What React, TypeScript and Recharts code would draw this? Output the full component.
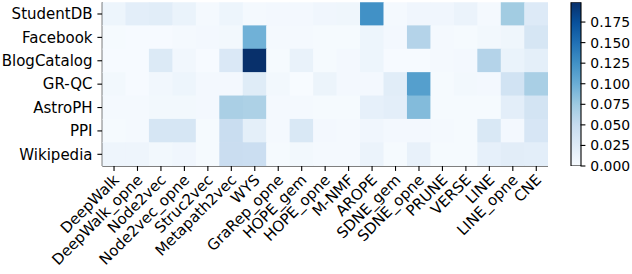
import React from "react";
import { ScatterChart, Scatter, XAxis, YAxis, BarChart, Bar } from "recharts";

const COLS = [
  "DeepWalk", "DeepWalk_opne", "Node2vec", "Node2vec_opne", "Struc2vec",
  "Metapath2vec", "WYS", "GraRep_opne", "HOPE_gem", "HOPE_opne", "M-NMF",
  "AROPE", "SDNE_gem", "SDNE_opne", "PRUNE", "VERSE", "LINE", "LINE_opne", "CNE",
];
const ROWS = ["StudentDB", "Facebook", "BlogCatalog", "GR-QC", "AstroPH", "PPI", "Wikipedia"];

const studentDB = [0.010, 0.020, 0.022, 0.013, 0.003, 0.010, 0.003, 0.004, 0.004, 0.007, 0.008, 0.125, 0.003, 0.007, 0.007, 0.012, 0.003, 0.072, 0.026];
const facebook = [0.002, 0.001, 0.001, 0.003, 0.004, 0.005, 0.097, 0.003, 0.003, 0.002, 0.002, 0.010, 0.004, 0.061, 0.003, 0.002, 0.005, 0.008, 0.033];
const blogCatalog = [0.001, 0.001, 0.027, 0.006, 0.001, 0.029, 0.199, 0.002, 0.014, 0.002, 0.004, 0.010, 0.001, 0.001, 0.003, 0.004, 0.061, 0.013, 0.019];
const grqc = [0.005, 0.001, 0.006, 0.010, 0.004, 0.004, 0.024, 0.005, 0.000, 0.011, 0.004, 0.004, 0.022, 0.113, 0.002, 0.005, 0.004, 0.038, 0.068];
const astroPH = [0.003, 0.003, 0.005, 0.005, 0.004, 0.067, 0.065, 0.003, 0.003, 0.002, 0.002, 0.017, 0.020, 0.088, 0.002, 0.002, 0.002, 0.020, 0.036];
const ppi = [0.002, 0.003, 0.033, 0.033, 0.002, 0.047, 0.019, 0.003, 0.030, 0.004, 0.003, 0.007, 0.004, 0.004, 0.003, 0.002, 0.030, 0.004, 0.032];
const wikipedia = [0.009, 0.009, 0.005, 0.007, 0.002, 0.046, 0.045, 0.002, 0.005, 0.003, 0.003, 0.012, 0.002, 0.015, 0.002, 0.002, 0.017, 0.021, 0.020];

const SERIES = [studentDB, facebook, blogCatalog, grqc, astroPH, ppi, wikipedia];
const CBAR_TICKS = [0, 0.025, 0.05, 0.075, 0.1, 0.125, 0.15, 0.175];

const VMAX = Math.max(...SERIES.flat());

const BLUES = ["#f7fbff", "#deebf7", "#c6dbef", "#9ecae1", "#6baed6", "#4292c6", "#2171b5", "#08519c", "#08306b"];

function hexToRgb(h: string) {
  return [parseInt(h.slice(1, 3), 16), parseInt(h.slice(3, 5), 16), parseInt(h.slice(5, 7), 16)];
}
function blues(t: number) {
  const c = Math.max(0, Math.min(1, t)) * (BLUES.length - 1);
  const i = Math.min(BLUES.length - 2, Math.floor(c));
  const f = c - i;
  const a = hexToRgb(BLUES[i]);
  const b = hexToRgb(BLUES[i + 1]);
  const m = a.map((v, k) => Math.round(v + (b[k] - v) * f));
  return `rgb(${m[0]},${m[1]},${m[2]})`;
}

const cells = SERIES.flatMap((row, r) => row.map((v, c) => ({ x: c, y: r, v })));

const W = 632;
const H = 274;
const PLOT_LEFT = 102.3;
const PLOT_RIGHT = 548;
const PLOT_TOP = 2.3;
const PLOT_BOTTOM = 166;
const CELL_W = (PLOT_RIGHT - PLOT_LEFT) / COLS.length;
const CELL_H = (PLOT_BOTTOM - PLOT_TOP) / ROWS.length;
const FONT = "DejaVu Sans";

const CellShape = (props: any) => {
  const { cx, cy, payload } = props;
  const fill = blues(payload.v / VMAX);
  return (
    <rect
      x={cx - CELL_W / 2 - 0.3}
      y={cy - CELL_H / 2 - 0.3}
      width={CELL_W + 0.6}
      height={CELL_H + 0.6}
      fill={fill}
      stroke="none"
    />
  );
};

const XTick = (props: any) => {
  const { x, y, payload } = props;
  const ax = x + 6;
  const ay = y + 10;
  return (
    <text
      x={ax}
      y={ay}
      textAnchor="end"
      transform={`rotate(-45 ${ax} ${ay})`}
      fontSize={15}
      fontFamily={FONT}
      fill="#000"
    >
      {COLS[payload.value]}
    </text>
  );
};

export default function App() {
  const colTicks = COLS.map((_, i) => i);
  const rowTicks = ROWS.map((_, i) => i);
  return (
    <div style={{ position: "absolute", left: 0, top: 0, width: W, height: H, background: "#fff" }}>
      <svg width={0} height={0} style={{ position: "absolute" }}>
        <defs>
          <linearGradient id="bluesGrad" x1="0" y1="1" x2="0" y2="0">
            {BLUES.map((c, i) => (
              <stop key={i} offset={i / (BLUES.length - 1)} stopColor={c} />
            ))}
          </linearGradient>
        </defs>
      </svg>
      <div style={{ position: "absolute", left: 0, top: 0 }}>
        <ScatterChart
          width={W}
          height={H}
          margin={{ top: PLOT_TOP, right: W - PLOT_RIGHT, bottom: 0, left: 0 }}
        >
          <XAxis
            xAxisId="b"
            type="number"
            dataKey="x"
            domain={[-0.5, COLS.length - 0.5]}
            ticks={colTicks}
            interval={0}
            allowDataOverflow
            height={H - PLOT_BOTTOM}
            tickSize={4.9}
            tickMargin={0}
            tick={<XTick />}
            tickLine={{ stroke: "#000", strokeWidth: 1.1 }}
            axisLine={{ stroke: "#000", strokeWidth: 1.1 }}
          />
          <XAxis
            xAxisId="t"
            orientation="top"
            type="number"
            domain={[-0.5, COLS.length - 0.5]}
            allowDataOverflow
            height={0}
            tick={false}
            tickLine={false}
            axisLine={{ stroke: "#000", strokeWidth: 1.1 }}
          />
          <YAxis
            yAxisId="l"
            type="number"
            dataKey="y"
            domain={[-0.5, ROWS.length - 0.5]}
            reversed
            ticks={rowTicks}
            interval={0}
            allowDataOverflow
            width={PLOT_LEFT}
            tickSize={4.9}
            tickMargin={4.9}
            tickFormatter={(v: number) => ROWS[v]}
            tick={{ fill: "#000", fontSize: 15, fontFamily: FONT }}
            tickLine={{ stroke: "#000", strokeWidth: 1.1 }}
            axisLine={{ stroke: "#000", strokeWidth: 1.1 }}
          />
          <YAxis
            yAxisId="r"
            orientation="right"
            type="number"
            domain={[-0.5, ROWS.length - 0.5]}
            allowDataOverflow
            width={0}
            tick={false}
            tickLine={false}
            axisLine={{ stroke: "#000", strokeWidth: 1.1 }}
          />
          <Scatter
            xAxisId="b"
            yAxisId="l"
            data={cells}
            shape={<CellShape />}
            isAnimationActive={false}
          />
        </ScatterChart>
      </div>
      <div style={{ position: "absolute", left: 560, top: 0 }}>
        <BarChart
          width={72}
          height={H}
          data={[{ k: "cbar", v: VMAX }]}
          margin={{ top: PLOT_TOP, right: 0, bottom: H - PLOT_BOTTOM, left: 11 }}
          barCategoryGap={0}
          barGap={0}
        >
          <XAxis dataKey="k" hide />
          <YAxis
            orientation="right"
            type="number"
            domain={[0, VMAX]}
            allowDataOverflow
            ticks={CBAR_TICKS}
            interval={0}
            width={51.5}
            tickSize={4.9}
            tickMargin={4.9}
            axisLine={false}
            tickFormatter={(v: number) => v.toFixed(3)}
            tick={{ fill: "#000", fontSize: 13.9, fontFamily: FONT, textAnchor: "start" }}
            tickLine={{ stroke: "#000", strokeWidth: 1.1 }}
          />
          <Bar
            dataKey="v"
            fill="url(#bluesGrad)"
            stroke="#000"
            strokeWidth={1.1}
            isAnimationActive={false}
          />
        </BarChart>
      </div>
    </div>
  );
}
